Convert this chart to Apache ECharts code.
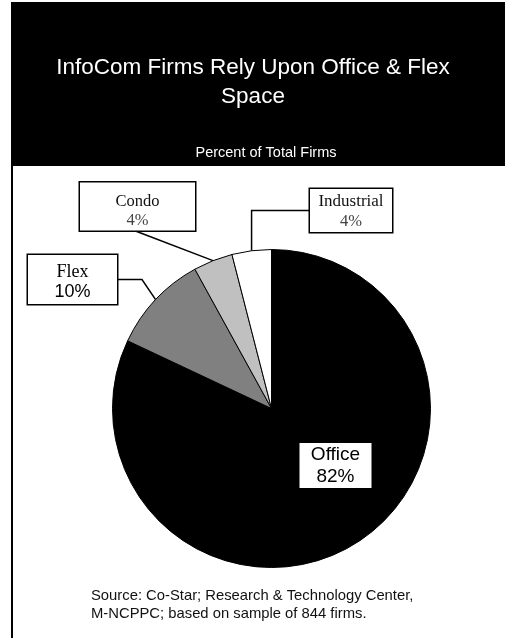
<!DOCTYPE html>
<html>
<head>
<meta charset="utf-8">
<script src="https://cdn.jsdelivr.net/npm/echarts@6/dist/echarts.min.js"></script>
<style>
  html, body { margin: 0; padding: 0; background: #ffffff; }
  #chart { width: 505px; height: 638px; }
</style>
</head>
<body>
<div id="chart"></div>
<script>
// Share of InfoCom firms by space type (percent of total firms)
const categories = ['Office', 'Flex', 'Condo', 'Industrial'];
const shares = [82, 10, 4, 4];

// Slice fills, in category order
const sliceColors = ['#000000', '#808080', '#c0c0c0', '#ffffff'];

// Callout boxes: centre, size, where the leader line leaves the box
const calloutBoxes = [
  { cx: 335.5, cy: 465.5, w: 72, h: 45, leave: null },
  { cx: 72.5, cy: 279.5, w: 91, h: 49, leave: 'right' },
  { cx: 137.5, cy: 206.5, w: 117, h: 49, leave: 'bottom' },
  { cx: 351, cy: 210.5, w: 84, h: 43, leave: 'left' }
];

const SERIF = '"Liberation Serif", "Times New Roman", serif';
const SANS = '"Liberation Sans", Arial, sans-serif';

// Per-slice label styling (box, fonts, padding)
const labelStyles = [
  {
    position: 'inside', backgroundColor: '#ffffff', borderWidth: 0, padding: [1, 0, 0, 0],
    rich: {
      n: { fontFamily: SANS, fontSize: 19, color: '#000', lineHeight: 22, width: 72, align: 'center' },
      v: { fontFamily: SANS, fontSize: 19, color: '#000', lineHeight: 22, width: 72, align: 'center' }
    }
  },
  {
    position: 'outside', backgroundColor: '#ffffff', borderColor: '#000', borderWidth: 1.5, padding: [7, 0, 2, 0],
    rich: {
      n: { fontFamily: SERIF, fontSize: 18, color: '#000', lineHeight: 20, width: 89, align: 'center' },
      v: { fontFamily: SANS, fontSize: 18, color: '#000', lineHeight: 20, width: 89, align: 'center' }
    }
  },
  {
    position: 'outside', backgroundColor: '#ffffff', borderColor: '#000', borderWidth: 1.5, padding: [10, 0, 0, 0],
    rich: {
      n: { fontFamily: SERIF, fontSize: 16.5, color: '#111', lineHeight: 19, width: 115, align: 'center' },
      v: { fontFamily: SERIF, fontSize: 16.5, color: '#444', lineHeight: 19, width: 115, align: 'center' }
    }
  },
  {
    position: 'outside', backgroundColor: '#ffffff', borderColor: '#000', borderWidth: 1.5, padding: [3, 0, 0, 0],
    rich: {
      n: { fontFamily: SERIF, fontSize: 17, color: '#111', lineHeight: 20, width: 82, align: 'center' },
      v: { fontFamily: SERIF, fontSize: 16.5, color: '#444', lineHeight: 20, width: 82, align: 'center' }
    }
  }
];

const pieData = categories.map(function (name, i) {
  const ls = labelStyles[i];
  return {
    name: name,
    value: shares[i],
    itemStyle: { color: sliceColors[i] },
    label: {
      show: true,
      position: ls.position,
      backgroundColor: ls.backgroundColor,
      borderColor: ls.borderColor || 'transparent',
      borderWidth: ls.borderWidth,
      padding: ls.padding,
      rich: ls.rich
    },
    labelLine: { show: ls.position === 'outside' }
  };
});

const chart = echarts.init(document.getElementById('chart'), null, { renderer: 'canvas' });

chart.setOption({
  backgroundColor: '#ffffff',
  animation: false,
  graphic: [
    // header band and frame
    { type: 'rect', shape: { x: 11, y: 2, width: 500, height: 164 }, style: { fill: '#000000' }, silent: true, z: 0 },
    { type: 'rect', shape: { x: 11, y: 2, width: 2, height: 640 }, style: { fill: '#000000' }, silent: true, z: 0 },
    {
      type: 'text', x: 253, y: 82.5, silent: true,
      style: {
        text: 'InfoCom Firms Rely Upon Office & Flex\nSpace',
        fill: '#ffffff', font: '22.5px ' + SANS, lineHeight: 29,
        textAlign: 'center', textVerticalAlign: 'middle'
      }
    },
    {
      type: 'text', x: 266, y: 153, silent: true,
      style: {
        text: 'Percent of Total Firms',
        fill: '#ffffff', font: '14.5px ' + SANS,
        textAlign: 'center', textVerticalAlign: 'middle'
      }
    },
    {
      type: 'text', x: 91, y: 605, silent: true,
      style: {
        text: 'Source: Co-Star; Research & Technology Center,\nM-NCPPC; based on sample of 844 firms.',
        fill: '#111111', font: '14.8px ' + SANS, lineHeight: 18,
        textAlign: 'left', textVerticalAlign: 'middle'
      }
    }
  ],
  series: [{
    type: 'pie',
    center: [271.5, 408.5],
    radius: 159,
    startAngle: 90,
    clockwise: true,
    avoidLabelOverlap: false,
    itemStyle: { borderColor: '#000000', borderWidth: 1 },
    emphasis: { disabled: true },
    label: {
      formatter: function (p) { return '{n|' + p.name + '}\n{v|' + p.value + '%}'; },
      overflow: 'none'
    },
    labelLine: {
      length: 20, length2: 20, smooth: false,
      lineStyle: { color: '#000000', width: 1.5 }
    },
    labelLayout: function (p) {
      const box = calloutBoxes[p.dataIndex];
      const out = { x: box.cx, y: box.cy, align: 'center', verticalAlign: 'middle' };
      const pts = p.labelLinePoints;
      if (!box.leave || !pts) { return out; }
      const arc = pts[0];
      const left = box.cx - box.w / 2;
      const right = box.cx + box.w / 2;
      const bottom = box.cy + box.h / 2;
      if (box.leave === 'right') {
        out.labelLinePoints = [arc, [right + 24, box.cy], [right, box.cy]];
      } else if (box.leave === 'left') {
        out.labelLinePoints = [arc, [arc[0], box.cy], [left, box.cy]];
      } else {
        const anchor = [box.cx - 2, bottom];
        out.labelLinePoints = [arc, anchor, anchor];
      }
      return out;
    },
    data: pieData
  }]
});
</script>
</body>
</html>
